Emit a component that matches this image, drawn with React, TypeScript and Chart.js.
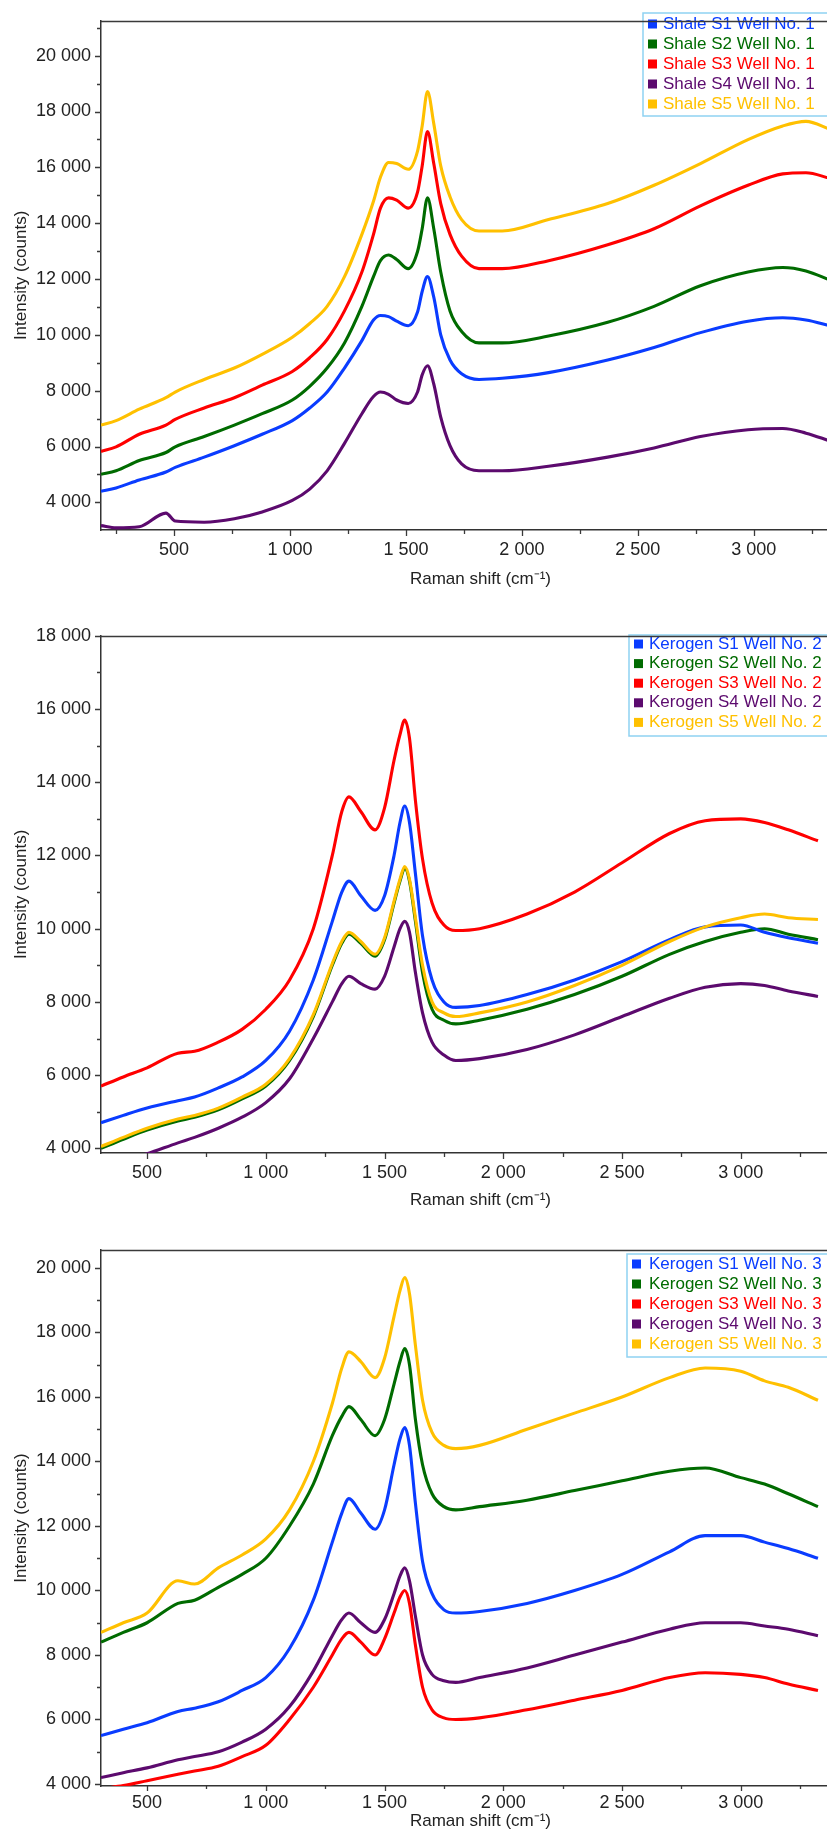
import React, { useEffect, useRef } from "react";
import { Chart, registerables } from "chart.js";

Chart.register(...registerables);

// ---------- tick labels ----------
const X_TICKS = [500, 1000, 1500, 2000, 2500, 3000];
const X_MINOR = [250, 750, 1250, 1750, 2250, 2750, 3250];
const Y_TICKS_1 = [4000, 6000, 8000, 10000, 12000, 14000, 16000, 18000, 20000];
const Y_MINOR_1 = [5000, 7000, 9000, 11000, 13000, 15000, 17000, 19000, 21000];
const Y_TICKS_2 = [4000, 6000, 8000, 10000, 12000, 14000, 16000, 18000];
const Y_MINOR_2 = [5000, 7000, 9000, 11000, 13000, 15000, 17000];
const Y_TICKS_3 = [4000, 6000, 8000, 10000, 12000, 14000, 16000, 18000, 20000];
const Y_MINOR_3 = [5000, 7000, 9000, 11000, 13000, 15000, 17000, 19000];

// ---------- chart 1 : Shale, Well No. 1 ----------
const LABELS_1 = ["Shale S1 Well No. 1", "Shale S2 Well No. 1", "Shale S3 Well No. 1", "Shale S4 Well No. 1", "Shale S5 Well No. 1"];
const X_1 = [185, 250, 350, 465, 505, 630, 760, 880, 1010, 1085, 1160, 1235, 1310, 1360, 1390, 1425, 1460, 1510, 1550, 1570, 1593, 1620, 1650, 1690, 1740, 1815, 1915, 2115, 2370, 2570, 2770, 2975, 3125, 3225, 3330];
const S1_1 = [4394, 4517, 4803, 5089, 5253, 5621, 6030, 6439, 6930, 7380, 7953, 8812, 9794, 10530, 10694, 10653, 10490, 10326, 10817, 11553, 12085, 11349, 9999, 9099, 8608, 8403, 8444, 8648, 9099, 9548, 10080, 10490, 10612, 10530, 10326];
const S2_1 = [5007, 5130, 5498, 5785, 5989, 6357, 6767, 7176, 7667, 8158, 8812, 9712, 11021, 12085, 12658, 12862, 12699, 12371, 12985, 13803, 14908, 13803, 12249, 10858, 10121, 9712, 9712, 9958, 10449, 11021, 11758, 12249, 12412, 12289, 11962];
const S3_1 = [5825, 5989, 6439, 6767, 6971, 7380, 7749, 8199, 8689, 9180, 9835, 10858, 12249, 13601, 14540, 14908, 14826, 14540, 15112, 16053, 17280, 16135, 14703, 13601, 12821, 12371, 12371, 12658, 13230, 13803, 14621, 15358, 15767, 15808, 15603];
const S4_1 = [3167, 3085, 3126, 3616, 3330, 3289, 3412, 3657, 4067, 4476, 5130, 6112, 7176, 7790, 7953, 7872, 7667, 7544, 7953, 8567, 8894, 8240, 7053, 6030, 5376, 5130, 5130, 5294, 5621, 5949, 6357, 6603, 6644, 6480, 6194];
const S5_1 = [6767, 6930, 7339, 7749, 7953, 8403, 8812, 9303, 9917, 10408, 11021, 12085, 13601, 14785, 15644, 16176, 16135, 15930, 16585, 17485, 18712, 17567, 16053, 14949, 14130, 13721, 13721, 14130, 14703, 15358, 16135, 16995, 17485, 17649, 17362];

// ---------- charts 2 & 3 share the x positions ----------
const X_23 = [306, 400, 500, 630, 700, 800, 900, 1000, 1100, 1200, 1280, 1320, 1350, 1400, 1460, 1500, 1540, 1565, 1585, 1605, 1630, 1660, 1700, 1750, 1800, 1900, 2100, 2300, 2500, 2700, 2850, 3000, 3100, 3200, 3325];

// ---------- chart 2 : Kerogen, Well No. 2 ----------
const LABELS_2 = ["Kerogen S1 Well No. 2", "Kerogen S2 Well No. 2", "Kerogen S3 Well No. 2", "Kerogen S4 Well No. 2", "Kerogen S5 Well No. 2"];
const S1_2 = [4700, 4900, 5100, 5300, 5400, 5650, 5950, 6400, 7200, 8600, 10200, 11000, 11300, 10900, 10500, 10900, 12000, 12900, 13350, 12900, 11500, 9800, 8600, 8000, 7850, 7900, 8200, 8600, 9100, 9700, 10050, 10100, 9900, 9750, 9600];
const S2_2 = [4000, 4250, 4500, 4750, 4850, 5050, 5350, 5700, 6400, 7600, 9000, 9600, 9850, 9600, 9250, 9700, 10700, 11300, 11650, 11300, 10200, 8800, 7800, 7500, 7400, 7500, 7800, 8200, 8700, 9300, 9650, 9900, 10000, 9850, 9700];
const S3_2 = [5700, 5950, 6200, 6600, 6650, 6900, 7250, 7800, 8600, 10000, 12000, 13200, 13600, 13200, 12700, 13300, 14600, 15300, 15700, 15200, 13500, 11900, 10700, 10100, 9950, 10000, 10400, 11000, 11800, 12600, 12950, 13000, 12900, 12700, 12400];
const S4_2 = [3500, 3650, 3850, 4150, 4300, 4550, 4850, 5250, 5900, 7000, 8000, 8500, 8700, 8500, 8350, 8700, 9500, 10000, 10200, 9900, 8800, 7700, 6900, 6550, 6400, 6450, 6700, 7100, 7600, 8100, 8400, 8500, 8450, 8300, 8150];
const S5_2 = [4050, 4300, 4550, 4800, 4900, 5100, 5400, 5750, 6450, 7650, 9050, 9650, 9900, 9650, 9300, 9750, 10750, 11350, 11700, 11350, 10300, 9000, 8000, 7700, 7600, 7700, 8000, 8450, 9000, 9650, 10050, 10300, 10400, 10300, 10250];

// ---------- chart 3 : Kerogen, Well No. 3 ----------
const LABELS_3 = ["Kerogen S1 Well No. 3", "Kerogen S2 Well No. 3", "Kerogen S3 Well No. 3", "Kerogen S4 Well No. 3", "Kerogen S5 Well No. 3"];
const S1_3 = [5500, 5700, 5900, 6250, 6350, 6550, 6900, 7300, 8200, 9700, 11500, 12400, 12850, 12400, 11900, 12500, 13900, 14700, 15050, 14500, 12700, 10900, 9900, 9400, 9300, 9350, 9600, 10000, 10500, 11200, 11700, 11700, 11500, 11300, 11000];
const S2_3 = [8400, 8700, 9000, 9600, 9700, 10100, 10500, 11000, 12000, 13300, 14800, 15400, 15700, 15300, 14800, 15300, 16400, 17100, 17500, 17000, 15300, 13900, 13000, 12600, 12500, 12600, 12800, 13100, 13400, 13700, 13800, 13500, 13300, 13000, 12600];
const S3_3 = [3850, 3950, 4100, 4300, 4400, 4550, 4850, 5200, 6000, 7000, 8000, 8500, 8700, 8400, 8000, 8500, 9300, 9800, 10000, 9600, 8300, 7000, 6300, 6050, 6000, 6050, 6300, 6600, 6900, 7300, 7450, 7400, 7300, 7100, 6900];
const S4_3 = [4200, 4350, 4500, 4750, 4850, 5000, 5300, 5700, 6400, 7500, 8600, 9100, 9300, 9000, 8700, 9100, 9900, 10450, 10700, 10300, 9200, 8000, 7400, 7200, 7150, 7300, 7600, 8000, 8400, 8800, 9000, 9000, 8900, 8800, 8600];
const S5_3 = [8700, 9000, 9300, 10300, 10200, 10700, 11100, 11600, 12500, 14000, 15800, 16900, 17400, 17100, 16600, 17200, 18500, 19300, 19700, 19200, 17600, 15900, 14900, 14500, 14400, 14500, 15000, 15500, 16000, 16600, 16900, 16800, 16500, 16300, 15900];

const COLORS = ["#0a3cff", "#006b00", "#ff0000", "#5c0a6e", "#ffc000"];
const FONT = "'Liberation Sans', Arial, Helvetica, sans-serif";
const CANVAS_W = 860;

function fmt(v: number): string {
  if (v < 1000) return String(v);
  const th = Math.floor(v / 1000);
  const rest = String(v % 1000).padStart(3, "0");
  return `${th} ${rest}`;
}

const tickMarks = {
  id: "tickMarks",
  afterDraw(chart: any, _a: any, opts: any) {
    const { ctx, chartArea: ca, scales } = chart;
    const xs = scales.x;
    const ys = scales.y;
    ctx.save();
    ctx.strokeStyle = "#3a3a3a";
    ctx.lineWidth = 1.3;
    ctx.beginPath();
    const xLine = (v: number, len: number) => {
      if (v < xs.min || v > xs.max) return;
      const p = Math.round(xs.getPixelForValue(v)) + 0.5;
      ctx.moveTo(p, ca.bottom);
      ctx.lineTo(p, ca.bottom + len);
    };
    const yLine = (v: number, len: number) => {
      if (v < ys.min || v > ys.max) return;
      const p = Math.round(ys.getPixelForValue(v)) + 0.5;
      ctx.moveTo(ca.left - len, p);
      ctx.lineTo(ca.left, p);
    };
    X_TICKS.forEach((v) => xLine(v, opts.xLen));
    X_MINOR.forEach((v) => xLine(v, opts.xLen - 2));
    opts.yMajor.forEach((v: number) => yLine(v, 6));
    opts.yMinor.forEach((v: number) => yLine(v, 4));
    ctx.moveTo(ca.left, Math.round(ca.top) + 0.5);
    ctx.lineTo(ca.right, Math.round(ca.top) + 0.5);
    ctx.stroke();
    ctx.restore();
  },
};

const legendBox = {
  id: "legendBox",
  afterDatasetsDraw(chart: any, _a: any, opts: any) {
    const { ctx } = chart;
    const { x, y, w, h, rowY, rowGap, markX, textX, size } = opts;
    ctx.save();
    ctx.strokeStyle = "#8fd2f2";
    ctx.lineWidth = 1.5;
    ctx.strokeRect(x, y, w, h);
    ctx.font = `${size}px ${FONT}`;
    ctx.textBaseline = "middle";
    ctx.textAlign = "left";
    chart.data.datasets.forEach((ds: any, i: number) => {
      const cy = rowY + i * rowGap;
      ctx.fillStyle = ds.borderColor;
      ctx.fillRect(markX, cy - 4.5, 9, 9);
      ctx.fillText(ds.label, textX, cy);
    });
    ctx.restore();
  },
};

type Spec = {
  xs: number[];
  series: number[][];
  labels: string[];
  xMin: number;
  xMax: number;
  yMin: number;
  yMax: number;
  yTicks: number[];
  yMinor: number[];
  padTop: number;
  xAxisH: number;
  xLabelPad: number;
  xTitlePad: number;
  xTickLen: number;
  legend: any;
};

function buildConfig(spec: Spec): any {
  const datasets = spec.series.map((vals, i) => ({
    label: spec.labels[i],
    data: spec.xs.map((x, j) => ({ x, y: vals[j] })),
    borderColor: COLORS[i],
    backgroundColor: COLORS[i],
    borderWidth: 3.1,
    pointRadius: 0,
    cubicInterpolationMode: "monotone",
    fill: false,
    order: i === 4 ? 0 : i + 1,
  }));
  return {
    type: "line",
    data: { datasets },
    plugins: [tickMarks, legendBox],
    options: {
      responsive: false,
      animation: false,
      devicePixelRatio: 1,
      layout: { padding: { top: spec.padTop, left: 0, right: 0, bottom: 0 } },
      plugins: {
        legend: { display: false },
        tooltip: { enabled: false },
        tickMarks: { yMajor: spec.yTicks, yMinor: spec.yMinor, xLen: spec.xTickLen },
        legendBox: spec.legend,
      },
      scales: {
        x: {
          type: "linear",
          min: spec.xMin,
          max: spec.xMax,
          grid: { display: false, drawTicks: false },
          border: { display: true, color: "#333", width: 1.5 },
          afterBuildTicks: (s: any) => {
            s.ticks = X_TICKS.map((v) => ({ value: v }));
          },
          afterFit: (s: any) => {
            s.height = spec.xAxisH;
          },
          ticks: {
            autoSkip: false,
            maxRotation: 0,
            padding: spec.xLabelPad,
            color: "#222",
            font: { family: FONT, size: 18 },
            callback: (v: number) => fmt(v),
          },
          title: {
            display: true,
            text: "Raman shift (cm\u207B\u00B9)",
            color: "#222",
            font: { family: FONT, size: 17 },
            padding: { top: 0, bottom: spec.xTitlePad },
          },
        },
        y: {
          type: "linear",
          min: spec.yMin,
          max: spec.yMax,
          grid: { display: false, drawTicks: false },
          border: { display: true, color: "#333", width: 1.5 },
          afterBuildTicks: (s: any) => {
            s.ticks = spec.yTicks.map((v) => ({ value: v }));
          },
          afterFit: (s: any) => {
            s.width = 101;
          },
          ticks: {
            autoSkip: false,
            padding: 10,
            color: "#222",
            font: { family: FONT, size: 18 },
            callback: (v: number) => fmt(v),
          },
          title: {
            display: true,
            text: "Intensity (counts)",
            color: "#222",
            font: { family: FONT, size: 17 },
            padding: { top: 11, bottom: 0 },
          },
        },
      },
    },
  };
}

const SPEC_1: Spec = {
  xs: X_1,
  series: [S1_1, S2_1, S3_1, S4_1, S5_1],
  labels: LABELS_1,
  xMin: 185,
  xMax: 3458,
  yMin: 3010,
  yMax: 21250,
  yTicks: Y_TICKS_1,
  yMinor: Y_MINOR_1,
  padTop: 9,
  xAxisH: 85,
  xLabelPad: 9,
  xTitlePad: 25,
  xTickLen: 6,
  legend: { x: 643, y: 13, w: 230, h: 103, rowY: 24, rowGap: 20, markX: 648, textX: 663, size: 17 },
};

const SPEC_2: Spec = {
  xs: X_23,
  series: [S1_2, S2_2, S3_2, S4_2, S5_2],
  labels: LABELS_2,
  xMin: 306,
  xMax: 3502,
  yMin: 3873,
  yMax: 18000,
  yTicks: Y_TICKS_2,
  yMinor: Y_MINOR_2,
  padTop: 16,
  xAxisH: 72,
  xLabelPad: 9,
  xTitlePad: 14.5,
  xTickLen: 6,
  legend: { x: 629, y: 20, w: 240, h: 101, rowY: 29, rowGap: 19.6, markX: 634, textX: 649, size: 17 },
};

const SPEC_3: Spec = {
  xs: X_23,
  series: [S1_3, S2_3, S3_3, S4_3, S5_3],
  labels: LABELS_3,
  xMin: 306,
  xMax: 3502,
  yMin: 3938,
  yMax: 20558,
  yTicks: Y_TICKS_3,
  yMinor: Y_MINOR_3,
  padTop: 25,
  xAxisH: 46,
  xLabelPad: 6,
  xTitlePad: 0,
  xTickLen: 5,
  legend: { x: 627, y: 29, w: 240, h: 103, rowY: 39, rowGap: 20, markX: 632, textX: 649, size: 17 },
};

function ChartCanvas({ spec, top, height }: { spec: Spec; top: number; height: number }) {
  const ref = useRef<HTMLCanvasElement | null>(null);
  useEffect(() => {
    if (!ref.current) return;
    const chart = new Chart(ref.current, buildConfig(spec));
    return () => chart.destroy();
  }, [spec]);
  return (
    <canvas
      ref={ref}
      width={CANVAS_W}
      height={height}
      style={{ position: "absolute", left: 0, top, width: CANVAS_W, height, display: "block" }}
    />
  );
}

export default function App() {
  return (
    <div
      style={{
        position: "absolute",
        left: 0,
        top: 0,
        width: 827,
        height: 1832,
        overflow: "hidden",
        background: "#ffffff",
      }}
    >
      <ChartCanvas spec={SPEC_1} top={0} height={615} />
      <ChartCanvas spec={SPEC_2} top={615} height={610} />
      <ChartCanvas spec={SPEC_3} top={1225} height={607} />
    </div>
  );
}
